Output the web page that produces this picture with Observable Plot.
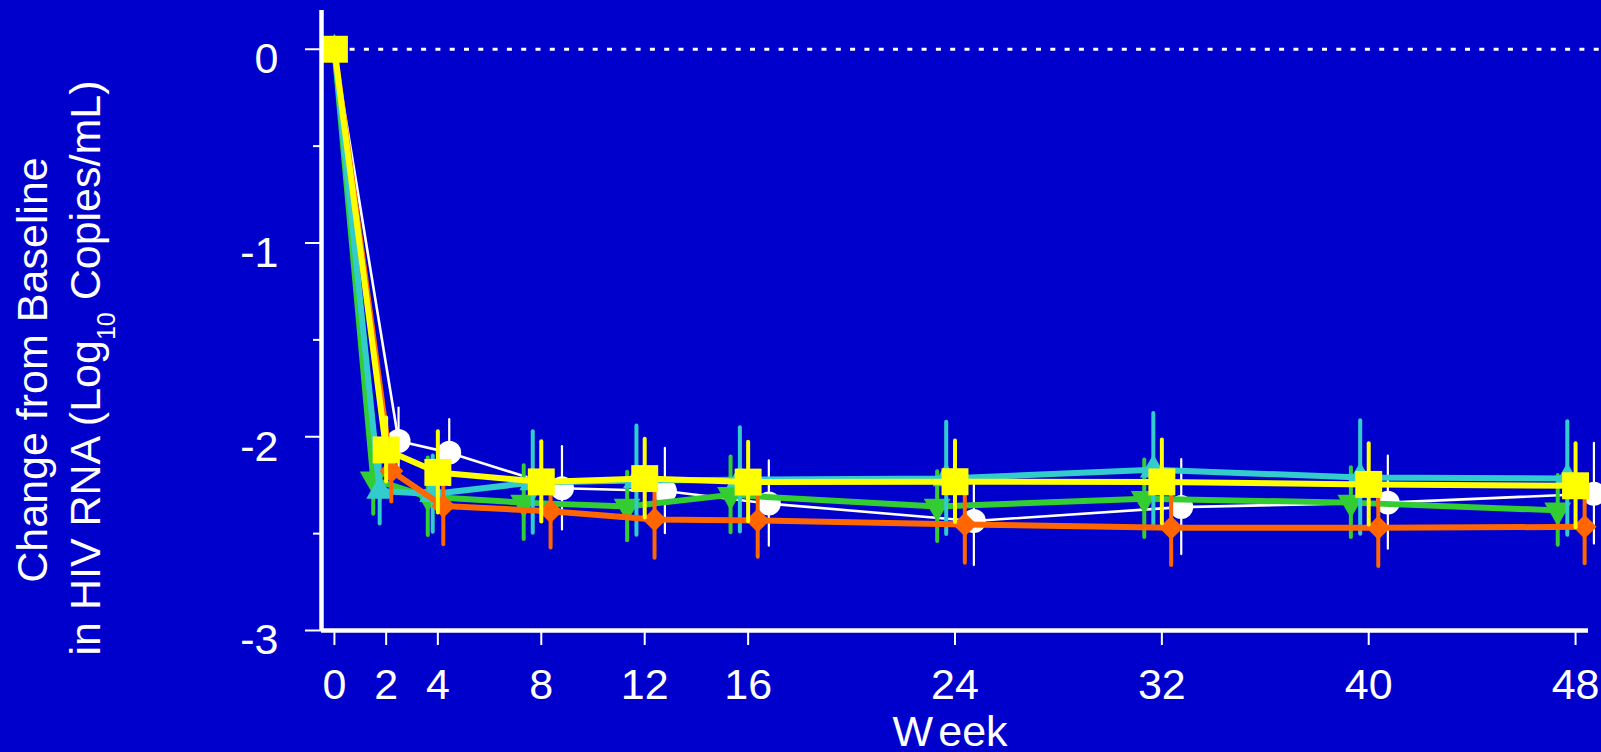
<!DOCTYPE html>
<html>
<head>
<meta charset="utf-8">
<script src="https://cdn.jsdelivr.net/npm/d3@7"></script>
<script src="https://cdn.jsdelivr.net/npm/@observablehq/plot@0.6"></script>
<style>
  html, body { margin: 0; padding: 0; background: #0000CC; overflow: hidden; }
  #chart svg { display: block; }
</style>
</head>
<body>
<div id="chart"></div>
<script>
// ---- Data ----
const weekTicks = [0, 2, 4, 8, 12, 16, 24, 32, 40, 48];
const yTicks = [0, -1, -2, -3];
const yMinorTicks = [-0.5, -1.5, -2.5];

// plotted week positions (groups are slightly staggered around each visit)
const whiteWeeks  = [0, 2.48, 4.44, 8.8, 12.78, 16.8, 24.73, 32.75, 40.74, 48.71];
const greenWeeks  = [0, 1.5, 3.61, 7.32, 11.32, 15.32, 23.31, 31.32, 39.31, 47.31];
const cyanWeeks   = [0, 1.75, 3.8, 7.67, 11.68, 15.68, 23.66, 31.67, 39.67, 47.68];
const orangeWeeks = [0, 2.2, 4.21, 8.36, 12.38, 16.37, 24.38, 32.36, 40.37, 48.35];
const yellowWeeks = [0, 2, 4, 8, 12, 16, 24, 32, 40, 48];

// mean change from baseline (log10 copies/mL)
const whiteMean  = [0, -2.022, -2.082, -2.266, -2.28, -2.345, -2.435, -2.363, -2.34, -2.294];
const greenMean  = [0, -2.22, -2.31, -2.34, -2.36, -2.30, -2.36, -2.32, -2.34, -2.38];
const cyanMean   = [0, -2.28, -2.296, -2.236, -2.226, -2.222, -2.215, -2.17, -2.21, -2.215];
const orangeMean = [0, -2.177, -2.358, -2.384, -2.427, -2.432, -2.453, -2.47, -2.47, -2.465];
const yellowMean = [0, -2.068, -2.184, -2.233, -2.216, -2.234, -2.232, -2.233, -2.246, -2.253];

// error bar half-lengths
const whiteErr  = [0, 0.17, 0.17, 0.215, 0.22, 0.22, 0.23, 0.245, 0.24, 0.26];
const greenErr  = [0, 0.18, 0.2, 0.19, 0.177, 0.196, 0.18, 0.2, 0.18, 0.18];
const cyanErr   = [0, 0.17, 0.197, 0.262, 0.282, 0.269, 0.29, 0.29, 0.293, 0.293];
const orangeErr = [0, 0.16, 0.2, 0.19, 0.2, 0.19, 0.2, 0.195, 0.2, 0.19];
const yellowErr = [0, 0.165, 0.21, 0.207, 0.203, 0.205, 0.21, 0.216, 0.21, 0.217];

// ---- Styling ----
const triangleDown = {
  draw(context, size) {
    const s3 = Math.sqrt(3);
    const y = Math.sqrt(size / (s3 * 3));
    context.moveTo(0, 2 * y);
    context.lineTo(s3 * y, -y);
    context.lineTo(-s3 * y, -y);
    context.closePath();
  }
};

const series = [
  {name: "white",  color: "#FFFFFF", weeks: whiteWeeks,  mean: whiteMean,  err: whiteErr,  symbol: "circle",   r: 12,   lw: 2.6, ew: 2.2},
  {name: "green",  color: "#33CC33", weeks: greenWeeks,  mean: greenMean,  err: greenErr,  symbol: triangleDown, r: 10, lw: 6,   ew: 4},
  {name: "cyan",   color: "#33CCCC", weeks: cyanWeeks,   mean: cyanMean,   err: cyanErr,   symbol: "triangle", r: 10,   lw: 6,   ew: 4},
  {name: "orange", color: "#FF6600", weeks: orangeWeeks, mean: orangeMean, err: orangeErr, symbol: "diamond2", r: 10.8, lw: 6,   ew: 4},
  {name: "yellow", color: "#FFFF00", weeks: yellowWeeks, mean: yellowMean, err: yellowErr, symbol: "square",   r: 15.2, lw: 6,   ew: 4}
];

const font = "'Liberation Sans', Arial, Helvetica, sans-serif";

const marks = [
  // dotted baseline at zero
  Plot.ruleY([0], {x1: -0.5, x2: 49.3, stroke: "white", strokeWidth: 3, strokeDasharray: "5,9.3"})
];

for (const s of series) {
  const rows = s.weeks.map((w, i) => ({week: w, mean: s.mean[i], err: s.err[i]}));
  marks.push(
    Plot.line(rows, {x: "week", y: "mean", stroke: s.color, strokeWidth: s.lw, strokeLinejoin: "round"}),
    Plot.ruleX(rows.filter(d => d.err > 0), {
      x: "week", y1: d => d.mean - d.err, y2: d => d.mean + d.err,
      stroke: s.color, strokeWidth: s.ew, strokeLinecap: "round"
    }),
    Plot.dot(rows, {x: "week", y: "mean", symbol: s.symbol, r: s.r, fill: s.color, stroke: "none"})
  );
}

marks.push(
  // axis lines
  Plot.ruleX([-0.5], {y1: -3, y2: 0.2, stroke: "white", strokeWidth: 4.5}),
  Plot.ruleY([-3], {x1: -0.5, x2: 48.5, stroke: "white", strokeWidth: 4.5}),
  // y axis: major ticks, tick labels, minor ticks
  Plot.axisY(yTicks, {anchor: "left", tickSize: 16, strokeWidth: 2, color: "white",
    tickFormat: () => "", label: null}),
  Plot.axisY(yTicks, {anchor: "left", tickSize: 0, tickPadding: 43, fontSize: 43, dy: 10,
    color: "white", tickFormat: d => String(d), label: null}),
  Plot.axisY(yMinorTicks, {anchor: "left", tickSize: 8, strokeWidth: 2, color: "white",
    tickFormat: () => "", label: null}),
  // x axis
  Plot.axisX(weekTicks, {anchor: "bottom", tickSize: 15, tickPadding: 23, fontSize: 43,
    strokeWidth: 2, color: "white", tickFormat: d => String(d), label: null})
);

const chart = Plot.plot({
  width: 1601,
  height: 752,
  marginLeft: 321,
  marginRight: 13,
  marginTop: 10,
  marginBottom: 122,
  x: {domain: [-0.5, 48.5]},
  y: {domain: [-3, 0.2]},
  style: {background: "#0000CC", color: "white", fontFamily: font, overflow: "visible"},
  marks
});

document.getElementById("chart").appendChild(chart);

// axis titles (with subscript)
const svg = d3.select(chart);
const g = svg.append("g").attr("fill", "white").attr("font-family", font).attr("font-size", 43);
g.append("text")
  .attr("transform", "translate(47,370) rotate(-90)")
  .attr("text-anchor", "middle")
  .text("Change from Baseline");
const t2 = g.append("text")
  .attr("transform", "translate(100,368) rotate(-90)")
  .attr("text-anchor", "middle");
t2.append("tspan").text("in HIV RNA (Log");
t2.append("tspan").attr("font-size", 25).attr("dy", 15).text("10");
t2.append("tspan").attr("dy", -15).text("\u00A0Copies/mL)");
const wk = g.append("text")
  .attr("x", 950).attr("y", 746)
  .attr("text-anchor", "middle");
wk.append("tspan").text("W");
wk.append("tspan").attr("dx", 6).text("eek");
</script>
</body>
</html>
